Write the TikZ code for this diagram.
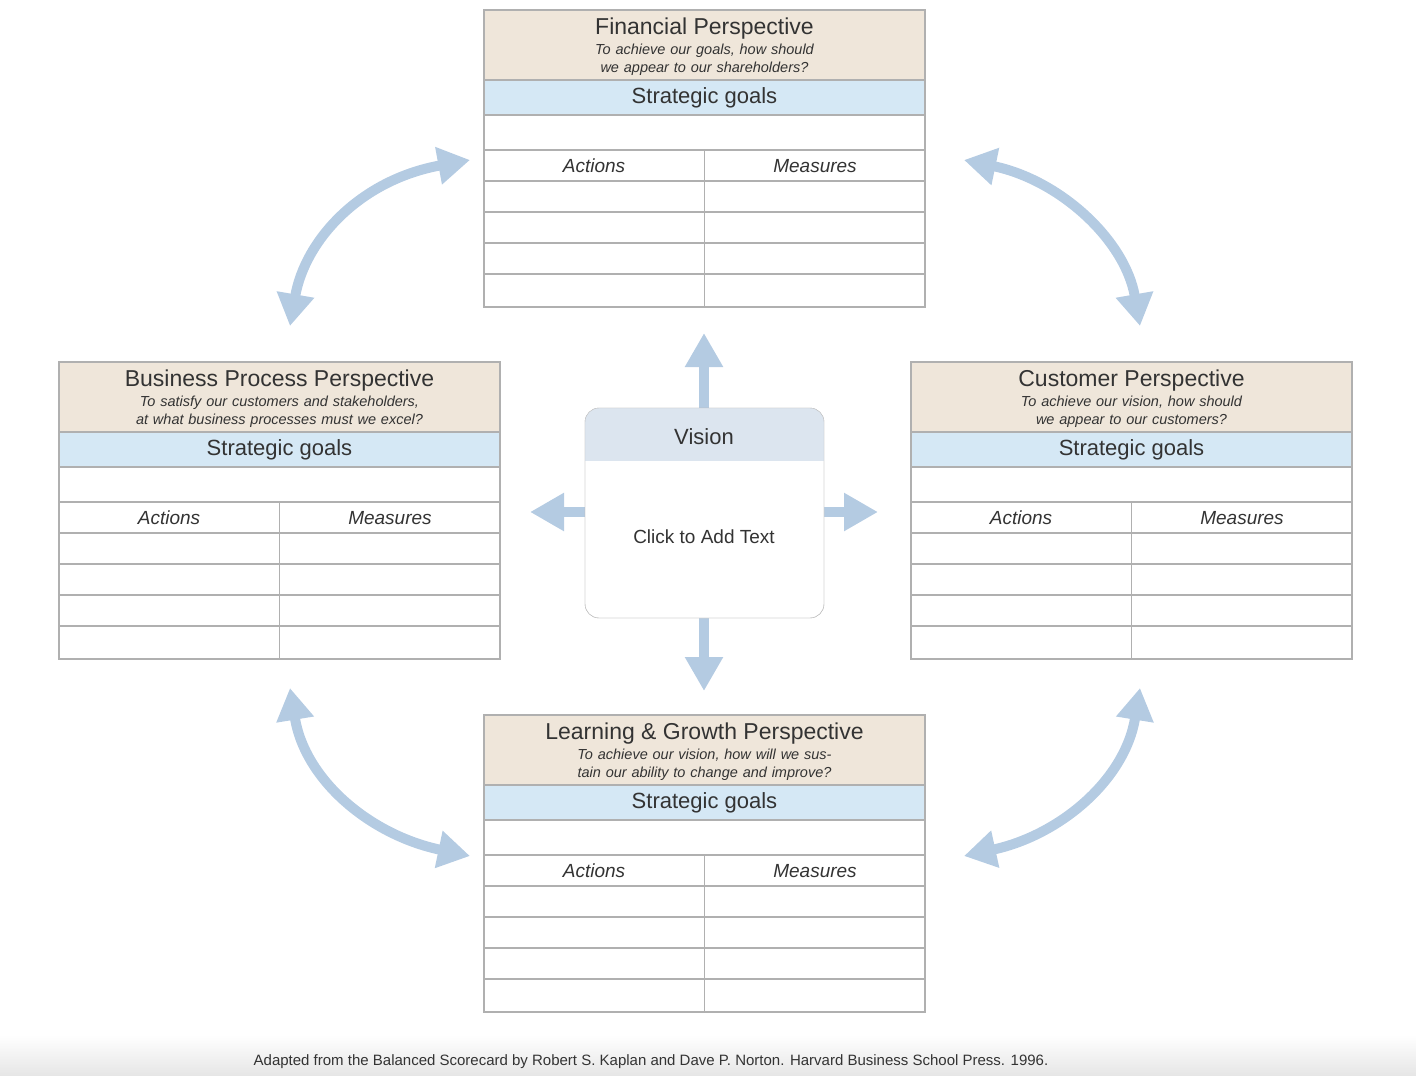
\documentclass[tikz,border=0pt]{standalone}
\usepackage{fontspec}
\setmainfont{Liberation Sans}
\usetikzlibrary{arrows.meta}
\definecolor{tan}{HTML}{EFE6DA}
\definecolor{sky}{HTML}{D5E8F5}
\definecolor{bord}{HTML}{B0B0B0}
\definecolor{arr}{HTML}{B4CBE2}
\definecolor{txt}{HTML}{333333}
\definecolor{vhead}{HTML}{DCE5EF}
\tikzset{
 grid/.style={draw=bord,line width=1.3pt},
 ttl/.style={font=\fontsize{23}{25}\selectfont,text=txt,inner sep=0},
 sub/.style={font=\fontsize{14.5}{18}\selectfont\itshape,text=txt,align=center,text width=400pt,inner sep=0},
 sg/.style={font=\fontsize{22}{24}\selectfont,text=txt,inner sep=0},
 col/.style={font=\fontsize{19}{21}\selectfont\itshape,text=txt,inner sep=0},
 bigarrow/.style={draw=arr,line width=10pt,{Triangle[width=36pt,length=32pt]}-{Triangle[width=36pt,length=32pt]}},
 blockarrow/.style={draw=arr,line width=10pt,-{Triangle[width=36pt,length=34pt]}},
}
\newcommand\persp[5]{%
 \begin{scope}[shift={(#1,#2)}]
  \fill[tan] (0,0) rectangle (441,70);
  \fill[sky] (0,70) rectangle (441,105);
  \fill[white] (0,105) rectangle (441,297);
  \foreach \yy in {70,105,140,171,202,233,264}{\draw[grid] (0,\yy) -- (441,\yy);}
  \draw[grid] (220.5,140) -- (220.5,297);
  \draw[grid] (0,0) rectangle (441,297);
  \node[ttl] (#3-t) at (220.5,19) {#4};
  \node[sub] (#3-s) at (220.5,50) {#5};
  \node[sg] (#3-g) at (220.5,88) {Strategic goals};
  \node[col] (#3-a) at (110,156) {Actions};
  \node[col] (#3-m) at (331,156) {Measures};
 \end{scope}}
\begin{document}
\begin{tikzpicture}[x=1pt,y=-1pt]
\useasboundingbox (0,0) rectangle (1416,1076);
\shade[top color=white,bottom color=black!10] (0,1035) rectangle (1416,1076);
\persp{484}{10}{fin}{Financial Perspective}{To achieve our goals, how should we appear to our shareholders?}
\persp{59}{362}{bus}{Business Process Perspective}{To satisfy our customers and stakeholders, at what business processes must we excel?}
\persp{911}{362}{cus}{Customer Perspective}{To achieve our vision, how should we appear to our customers?}
\persp{484}{715}{lea}{Learning \& Growth Perspective}{To achieve our vision, how will we sustain our ability to change and improve?}
% vision
\coordinate (vu) at (704,333); \coordinate (vd) at (704,691);
\coordinate (vl) at (530,512); \coordinate (vr) at (878,512);
\draw[blockarrow] (704,410) -- (vu);
\draw[blockarrow] (704,616) -- (vd);
\draw[blockarrow] (587,512) -- (vl);
\draw[blockarrow] (822,512) -- (vr);
\draw[draw=bord!80,fill=white,rounded corners=14pt] (585,408) rectangle (824,618);
\begin{scope}
\clip[rounded corners=14pt] (585,408) rectangle (824,618);
\fill[vhead] (585,408) rectangle (824,461);
\end{scope}
\draw[draw=bord!80,rounded corners=14pt] (585,408) rectangle (824,618);
\node[font=\fontsize{22}{24}\selectfont,text=txt] (vis) at (704,437) {Vision};
\node[font=\fontsize{19}{21}\selectfont,text=txt] (clk) at (704,537) {Click to Add Text};
% curved arrows
\coordinate (a1) at (470,160); \coordinate (a2) at (290,326);
\coordinate (b1) at (964,160); \coordinate (b2) at (1140,326);
\coordinate (c1) at (290,688); \coordinate (c2) at (470,856);
\coordinate (d1) at (1140,688); \coordinate (d2) at (964,856);
\draw[bigarrow] (a1) .. controls (360,180) and (305,240) .. (a2);
\draw[bigarrow] (b1) .. controls (1060,180) and (1125,240) .. (b2);
\draw[bigarrow] (c1) .. controls (305,780) and (370,835) .. (c2);
\draw[bigarrow] (d1) .. controls (1125,780) and (1060,835) .. (d2);
\node[font=\fontsize{15}{17}\selectfont,text=txt] (foot) at (651,1062) {Adapted from the Balanced Scorecard by Robert S. Kaplan and Dave P. Norton. Harvard Business School Press. 1996.};
\end{tikzpicture}
\end{document}
